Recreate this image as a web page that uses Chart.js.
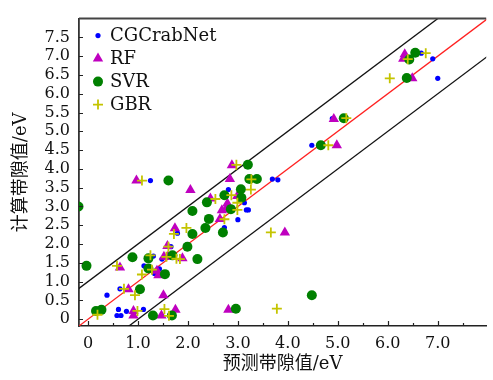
<!DOCTYPE html>
<html>
<head>
<meta charset="utf-8">
<title>带隙预测对比</title>
<script src="https://cdn.jsdelivr.net/npm/chart.js"></script>
<style>
    body { margin: 0; background: #fff; }
    #wrap { width: 493px; height: 380px; }
</style>
</head>
<body>
<div id="wrap"><canvas id="gapChart"></canvas></div>
<script>
// predicted (x) vs calculated (y) band gap, eV
const cgX = [0.38, 0.58, 0.66, 0.61, 0.64, 0.77, 1.11, 1.12, 1.31, 1.33, 1.43, 1.48, 1.25, 1.66, 1.79, 2.73, 2.81, 3.00, 3.10, 3.13, 3.17, 3.21, 3.69, 3.80, 4.48, 4.89, 6.67, 6.90, 7.00];
const cgY = [0.64, 0.10, 0.10, 0.26, 0.81, 0.21, 0.26, 1.42, 1.68, 1.22, 1.34, 1.60, 3.69, 1.93, 2.29, 2.44, 3.45, 2.65, 3.26, 3.10, 2.91, 2.91, 3.73, 3.71, 4.63, 5.34, 7.08, 6.93, 6.41];

const rfX = [0.64, 0.81, 0.91, 0.91, 0.97, 1.38, 1.41, 1.47, 1.51, 1.52, 1.59, 1.60, 1.74, 1.75, 1.89, 2.05, 2.45, 2.64, 2.68, 2.76, 2.79, 2.81, 2.84, 2.88, 2.99, 3.94, 4.92, 4.98, 6.31, 6.34, 6.49];
const rfY = [1.38, 0.80, 0.22, 0.10, 3.69, 1.29, 1.17, 0.10, 0.64, 1.66, 1.95, 1.66, 2.42, 0.25, 1.62, 3.44, 3.21, 2.67, 2.90, 2.93, 3.08, 0.25, 3.73, 4.10, 3.28, 2.31, 5.33, 4.63, 6.93, 7.05, 6.41];

const svrX = [-0.19, -0.03, 0.16, 0.27, 0.89, 1.04, 1.21, 1.21, 1.30, 1.54, 1.61, 1.68, 1.69, 1.99, 2.09, 2.09, 2.19, 2.35, 2.38, 2.42, 2.70, 2.73, 2.86, 2.96, 3.06, 3.07, 3.20, 3.23, 3.38, 4.48, 4.66, 5.12, 6.38, 6.43, 6.55];
const svrY = [3.00, 1.42, 0.22, 0.25, 1.65, 0.80, 1.62, 1.35, 0.10, 1.20, 3.69, 0.10, 1.70, 1.93, 2.27, 2.88, 1.60, 2.43, 3.11, 2.67, 2.31, 3.30, 2.93, 0.28, 3.46, 3.23, 4.11, 3.73, 3.73, 0.64, 4.63, 5.35, 6.42, 6.91, 7.09];

const gbrX = [0.19, 0.58, 0.72, 0.94, 0.99, 1.08, 1.08, 1.25, 1.28, 1.53, 1.62, 1.57, 1.61, 1.72, 1.77, 1.84, 1.97, 2.55, 2.73, 2.87, 2.97, 2.99, 2.99, 3.26, 3.27, 3.66, 3.78, 4.81, 5.17, 6.04, 6.40, 6.76];
const gbrY = [0.12, 1.42, 0.81, 0.64, 0.22, 1.19, 3.69, 1.70, 1.32, 0.27, 0.09, 1.66, 1.93, 2.27, 1.61, 1.60, 2.43, 3.20, 2.66, 3.30, 4.11, 3.10, 2.91, 3.45, 3.72, 2.31, 0.28, 4.63, 5.35, 6.41, 6.92, 7.08];

// y = x and y = x ± 1 guide lines
const lineX = [-1, 9];
const bandOffset = 1.0;

const xTicks = [0, 1, 2, 3, 4, 5, 6, 7];
const xMinorTicks = [0.5, 1.5, 2.5, 3.5, 4.5, 5.5, 6.5, 7.5];
const yTicks = [0, 0.5, 1, 1.5, 2, 2.5, 3, 3.5, 4, 4.5, 5, 5.5, 6, 6.5, 7, 7.5];

const zip = (xs, ys) => xs.map((x, i) => ({ x, y: ys[i] }));
const fmt = v => v === 0 ? '0' : v.toFixed(1);
const serif = "'DejaVu Serif', 'Liberation Serif', serif";
const cjk = "'DejaVu Serif', 'Noto Sans CJK SC', serif";

// inward ticks, top border and an in-plot legend
const framePlugin = {
    id: 'frame',
    afterDatasetsDraw(chart) {
        const { ctx, chartArea: a, scales: { x, y } } = chart;
        ctx.save();
        ctx.strokeStyle = '#222';
        ctx.lineWidth = 1.2;
        ctx.beginPath();
        xTicks.forEach(v => { const p = Math.round(x.getPixelForValue(v)) + 0.5; ctx.moveTo(p, a.bottom); ctx.lineTo(p, a.bottom - 5); });
        xMinorTicks.forEach(v => { const p = Math.round(x.getPixelForValue(v)) + 0.5; ctx.moveTo(p, a.bottom); ctx.lineTo(p, a.bottom - 3); });
        yTicks.forEach(v => { const p = Math.round(y.getPixelForValue(v)) + 0.5; ctx.moveTo(a.left, p); ctx.lineTo(a.left + 4, p); });
        ctx.stroke();

        ctx.strokeStyle = '#444';
        ctx.lineWidth = 2;
        ctx.beginPath();
        ctx.moveTo(a.left, a.top);
        ctx.lineTo(a.right, a.top);
        ctx.stroke();

        // legend: CGCrabNet, RF, SVR, GBR from top
        const items = chart.data.datasets.filter(d => d.showInLegend).sort((p, q) => q.order - p.order);
        items.forEach((d, i) => {
            const lx = a.left + 19, ly = a.top + 17 + i * 23;
            ctx.fillStyle = d.backgroundColor;
            ctx.strokeStyle = d.borderColor;
            ctx.lineWidth = d.borderWidth;
            Chart.helpers.drawPoint(ctx, { pointStyle: d.pointStyle, radius: d.pointRadius, borderWidth: d.borderWidth, rotation: 0 }, lx, ly);
            ctx.fillStyle = '#111';
            ctx.font = '18px ' + serif;
            ctx.textBaseline = 'middle';
            ctx.fillText(d.label, lx + 12, ly + 1);
        });
        ctx.restore();
    }
};

new Chart(document.getElementById('gapChart'), {
    type: 'scatter',
    data: {
        datasets: [
            { label: 'GBR', data: zip(gbrX, gbrY), showInLegend: true, order: 0,
              pointStyle: 'cross', pointRadius: 5, borderWidth: 1.8, borderColor: '#c4c400', backgroundColor: '#c4c400' },
            { label: 'SVR', data: zip(svrX, svrY), showInLegend: true, order: 1,
              pointStyle: 'circle', pointRadius: 5, borderWidth: 0, borderColor: '#008000', backgroundColor: '#008000' },
            { label: 'RF', data: zip(rfX, rfY), showInLegend: true, order: 2,
              pointStyle: 'triangle', pointRadius: 6, borderWidth: 0, borderColor: '#bf00bf', backgroundColor: '#bf00bf' },
            { label: 'CGCrabNet', data: zip(cgX, cgY), showInLegend: true, order: 3,
              pointStyle: 'circle', pointRadius: 2.6, borderWidth: 0, borderColor: '#0000ff', backgroundColor: '#0000ff' },
            { type: 'line', label: 'y=x', data: zip(lineX, lineX), order: 4,
              borderColor: '#ff2020', borderWidth: 1.2, pointRadius: 0 },
            { type: 'line', label: 'y=x+1', data: zip(lineX, lineX.map(v => v + bandOffset)), order: 5,
              borderColor: '#111', borderWidth: 1.3, pointRadius: 0 },
            { type: 'line', label: 'y=x-1', data: zip(lineX, lineX.map(v => v - bandOffset)), order: 6,
              borderColor: '#111', borderWidth: 1.3, pointRadius: 0 }
        ]
    },
    options: {
        responsive: true,
        maintainAspectRatio: false,
        animation: false,
        layout: { padding: { top: 9, left: 0, right: 0, bottom: 0 } },
        plugins: { legend: { display: false }, tooltip: { enabled: false } },
        scales: {
            x: {
                type: 'linear', min: -0.18, max: 7.97,
                afterBuildTicks: s => { s.ticks = xTicks.map(v => ({ value: v })); },
                afterFit: s => { s.height = 54; },
                grid: { display: false, drawTicks: false },
                border: { display: true, color: '#222', width: 1.5 },
                ticks: { callback: fmt, autoSkip: false, color: '#111', padding: 8, maxRotation: 0, font: { family: serif, size: 16 } },
                title: { display: true, text: '预测带隙值/eV', color: '#111', padding: { top: 0, bottom: 5 }, font: { family: cjk, size: 18 } }
            },
            y: {
                type: 'linear', min: -0.18, max: 8.0,
                afterBuildTicks: s => { s.ticks = yTicks.map(v => ({ value: v })); },
                afterFit: s => { s.width = 79; },
                grid: { display: false, drawTicks: false },
                border: { display: true, color: '#333', width: 1.8 },
                ticks: { callback: fmt, autoSkip: false, color: '#111', padding: 9, font: { family: serif, size: 16 } },
                title: { display: true, text: '计算带隙值/eV', color: '#111', padding: { top: 11, bottom: 0 }, font: { family: cjk, size: 18 } }
            }
        }
    },
    plugins: [framePlugin]
});
</script>
</body>
</html>
